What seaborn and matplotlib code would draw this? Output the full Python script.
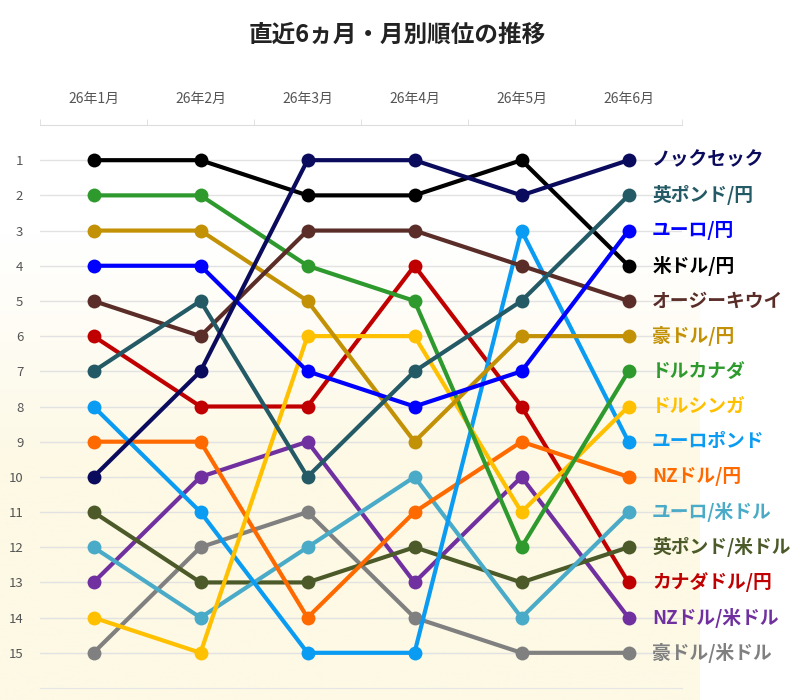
import numpy as np
import pandas as pd
import matplotlib
matplotlib.use('Agg')
import matplotlib.pyplot as plt
from matplotlib.colors import LinearSegmentedColormap
import seaborn as sns

# monthly ranks per currency pair
months = ['26年1月', '26年2月', '26年3月', '26年4月', '26年5月', '26年6月']
pairs = ['ノックセック', '英ポンド/円', 'ユーロ/円', '米ドル/円', 'オージーキウイ',
         '豪ドル/円', 'ドルカナダ', 'ドルシンガ', 'ユーロポンド', 'NZドル/円',
         'ユーロ/米ドル', '英ポンド/米ドル', 'カナダドル/円', 'NZドル/米ドル', '豪ドル/米ドル']
ranks = {
    'ノックセック':     [10, 7, 1, 1, 2, 1],
    '英ポンド/円':      [7, 5, 10, 7, 5, 2],
    'ユーロ/円':        [4, 4, 7, 8, 7, 3],
    '米ドル/円':        [1, 1, 2, 2, 1, 4],
    'オージーキウイ':   [5, 6, 3, 3, 4, 5],
    '豪ドル/円':        [3, 3, 5, 9, 6, 6],
    'ドルカナダ':       [2, 2, 4, 5, 12, 7],
    'ドルシンガ':       [14, 15, 6, 6, 11, 8],
    'ユーロポンド':     [8, 11, 15, 15, 3, 9],
    'NZドル/円':        [9, 9, 14, 11, 9, 10],
    'ユーロ/米ドル':    [12, 14, 12, 10, 14, 11],
    '英ポンド/米ドル':  [11, 13, 13, 12, 13, 12],
    'カナダドル/円':    [6, 8, 8, 4, 8, 13],
    'NZドル/米ドル':    [13, 10, 9, 13, 10, 14],
    '豪ドル/米ドル':    [15, 12, 11, 14, 15, 15],
}
colors = ['#0b0b5e', '#235a66', '#0000ff', '#000000', '#5a2d28',
          '#c39105', '#2e9a2e', '#ffc000', '#0a9bf2', '#ff6a00',
          '#4aabc8', '#4b5a28', '#c00000', '#7030a0', '#808080']
palette = dict(zip(pairs, colors))

rows = []
for p in pairs:
    for i, r in enumerate(ranks[p]):
        rows.append({'pair': p, 'month': i, 'rank': r})
df = pd.DataFrame(rows)

sns.set_style('white')
plt.rcParams['font.family'] = ['Noto Sans CJK JP', 'DejaVu Sans']

fig = plt.figure(figsize=(8, 7), dpi=100)

# soft background gradient (white -> cream)
bg = fig.add_axes([0, 0, 700 / 800, 1], zorder=-10)
cmap = LinearSegmentedColormap.from_list('bg', ['#fdf9e5', '#fdf9e5', '#ffffff', '#ffffff'])
grad = np.linspace(0, 1, 256).reshape(-1, 1)
bg.imshow(grad, aspect='auto', cmap=cmap, extent=[0, 1, 0, 1], origin='lower')
bg.set_axis_off()

ax = fig.add_axes([40 / 800, 12 / 700, 642 / 800, 563 / 700])
ax.patch.set_alpha(0)

sns.lineplot(data=df, x='month', y='rank', hue='pair', hue_order=pairs[::-1],
             palette=palette, marker='o', markersize=10, markeredgewidth=0,
             linewidth=3, legend=False, sort=False, ax=ax)

ax.set_xlim(-0.5, 5.5)
ax.set_ylim(16, 0)
ax.set_yticks(range(1, 16))
ax.set_yticklabels([str(i) for i in range(1, 16)], fontsize=9.5, color='#555555')
ax.tick_params(axis='y', length=0, pad=12)

ax.xaxis.tick_top()
ax.set_xticks(range(len(months)))
ax.set_xticklabels(months, fontsize=10, color='#555555')
ax.set_xticks(np.arange(-0.5, 6, 1), minor=True)
ax.tick_params(axis='x', which='major', length=0, pad=14)
ax.tick_params(axis='x', which='minor', length=4, color='#dddddd', direction='out')
ax.set_xlabel('')
ax.set_ylabel('')

for r in range(1, 16):
    ax.axhline(r, color='#e2e2e2', lw=1, zorder=0)
for s in ['left', 'right']:
    ax.spines[s].set_visible(False)
ax.spines['top'].set_color('#dddddd')
ax.spines['bottom'].set_color('#e6e6e6')

# series labels on the right
for p in pairs:
    ax.annotate(p, xy=(5, ranks[p][-1]), xytext=(17, 0), textcoords='offset points',
                va='center', ha='left', fontsize=13.5, fontweight='bold',
                color=palette[p], annotation_clip=False)

fig.text(0.496, 0.951, '直近6ヵ月・月別順位の推移', ha='center', va='center',
         fontsize=17, fontweight='bold', color='#222222')

fig.savefig('out.png', dpi=100)
